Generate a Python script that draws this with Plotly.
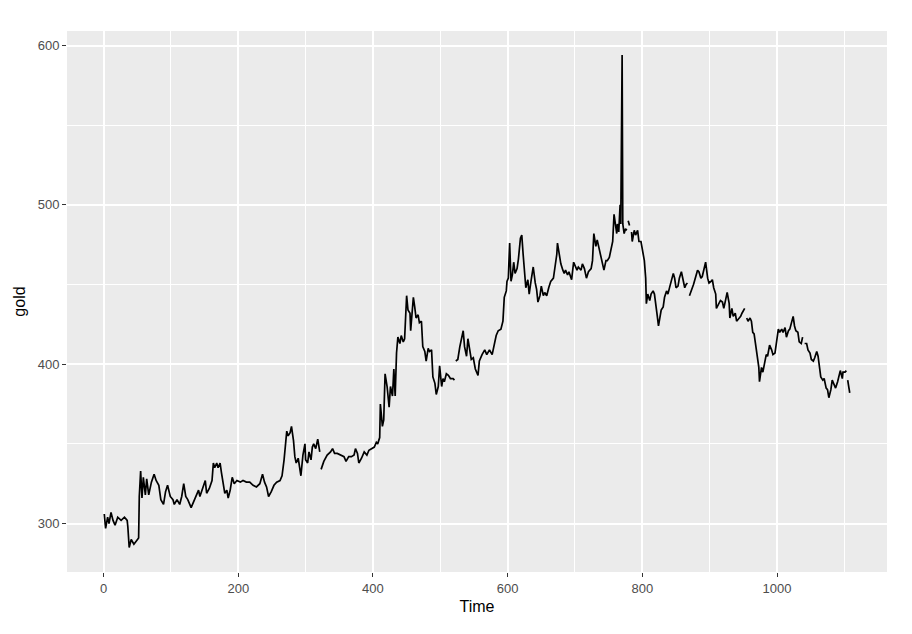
import plotly.graph_objects as go

# Daily gold price; None marks missing values
time = [1, 3, 6, 8, 11, 14, 17, 21, 26, 31, 35, 36, 38, 41, 45, 48, 52, 53, 55, 57,
        59, 62, 64, 67, 71, 75, 78, 82, 85, 89, 92, 95, 99, 103, 105, 109, 113, 116, 119, 122,
        125, 130, 134,
        137, 141, 143, 147, 151, 153, 157, 161, 163, 165, 168, 170, 173, 175, 178, 180, 183, 185,
        188, 191, 194, 198, 203, 207, 212, 217, 222, 227, 232, 236, 239, 242, 245, 249, 253, 257,
        262, 265, 268, 270, 272, 274, 277, 279, 282, 284, 286, 289, 293, 296, 299,
        300, 303, 305, 308, 310, 312, 315, 318, 321, 322, 323, 327, 332, 337, 340, 343, 347, 352,
        357, 360, 364, 368, 372, 374, 377, 379, 383, 387, 391, 394, 398, 402, 405, 407, 410, 411,
        414, 416, 418, 421, 424, 426, 429, 431,
        433, 435, 437, 440, 442, 445, 447, 450, 452, 455, 456, 460, 462, 464, 467, 469, 472, 474,
        477, 479, 482, 484, 487, 489, 492, 494, 497, 499, 502, 504, 506, 509, 512, 515, 519, 521,
        522, 523, 526, 529, 531, 534, 536, 539, 541, 544, 546, 549, 552, 556, 558, 562, 566, 569,
        573, 577, 580, 583, 586, 590, 593,
        595, 598, 599, 601, 603, 605, 607, 609, 611, 614, 616, 619, 621, 623, 625, 627, 630, 632,
        635, 638, 641, 643, 645, 648, 650, 653, 655, 658, 661, 664, 668, 670, 673, 674, 677, 679,
        682, 684, 686, 689, 691, 695, 698, 700, 703, 705, 709, 711, 714, 717, 720, 724, 726, 728,
        731, 733, 736, 738, 741, 743,
        746, 748, 751, 753, 756, 758, 760, 762, 763, 765, 767, 768, 770, 771, 773, 775, 777, 778,
        779, 781, 782, 784, 785, 788, 790, 793, 795, 798, 800, 803, 805, 806, 808, 811, 813, 816,
        818, 821, 822, 824, 826, 828, 831, 833, 836, 838, 841, 843, 846, 848, 850, 853, 855, 858,
        860, 863, 865, 867, 868, 870, 873, 876, 878,
        882, 884, 887, 889, 892, 894, 897, 899, 902, 904, 906, 909, 910, 914, 916, 919, 921, 924,
        926, 929, 930, 933, 935, 938, 940, 944, 946, 948, 952, 953, 955, 957, 960, 962, 964, 966,
        968, 971, 973, 974, 977, 979, 982, 984, 986, 989, 992, 994, 997, 999, 1002, 1004, 1007,
        1009, 1012, 1014, 1017, 1019, 1022, 1024, 1026, 1028, 1031, 1033, 1036, 1038, 1039,
        1041, 1044, 1046, 1049, 1051, 1054, 1056, 1059, 1061, 1063, 1065, 1068, 1070, 1073, 1075,
        1077, 1080, 1082, 1085, 1087, 1090, 1092, 1094, 1097, 1098, 1101, 1103, 1104, 1105, 1106,
        1108]

gold = [306, 297, 304, 300, 307, 302, 299, 304, 302, 304, 302, 298, 285, 290, 287, 289, 291, 317, 333, 316,
        329, 318, 328, 318, 326, 331, 327, 324, 315, 312, 320, 324, 317, 315, 312, 315, 312, 317, 325, 317,
        315, 310, 314,
        316, 321, 317, 322, 327, 319, 322, 327, 338, 335, 338, 335, 338, 332, 323, 319, 321, 316,
        321, 329, 325, 327, 326, 327, 326, 326, 324, 323, 325, 331, 326, 323, 317, 320, 324, 326,
        327, 330, 340, 350, 358, 355, 357, 361, 352, 342, 338, 341, 330, 343, 350,
        340, 338, 345, 340, 348, 350, 347, 353, 345, None, 334, 339, 343, 345, 347, 344, 344, 343,
        342, 339, 342, 342, 343, 347, 344, 338, 341, 345, 343, 346, 347, 348, 351, 350, 354, 375,
        361, 365, 394, 386, 373, 386, 380, 397,
        380, 407, 417, 413, 418, 414, 416, 443, 434, 432, 421, 442, 436, 429, 431, 426, 427, 411,
        408, 402, 410, 408, 409, 392, 388, 381, 386, 399, 386, 391, 389, 394, 393, 391, 391, 390,
        None, 402, 403, 411, 415, 421, 411, 405, 416, 408, 403, 404, 397, 393, 402, 406, 409, 406,
        409, 406, 413, 418, 421, 422, 427,
        442, 446, 452, 454, 476, 452, 456, 464, 457, 460, 466, 479, 481, 469, 459, 448, 453, 444,
        453, 461, 451, 447, 439, 443, 449, 443, 445, 443, 448, 452, 454, 459, 469, 476, 467, 463,
        459, 457, 459, 456, 458, 453, 464, 462, 459, 461, 459, 463, 460, 454, 458, 460, 465, 482,
        474, 478, 472, 467, 461, 459,
        465, 465, 467, 472, 477, 494, 489, 482, 488, 483, 500, 488, 594, 488, 482, 485, 484, None,
        490, 487, None, 483, 477, 484, 481, 484, 477, 477, 471, 465, 454, 438, 444, 440, 444, 446,
        444, 436, 431, 424, 429, 434, 436, 442, 446, 444, 449, 453, 457, 454, 448, 449, 454, 458,
        453, 448, 450, 451, None, 443, 446, 450, 453,
        459, 458, 454, 455, 461, 464, 454, 451, 452, 453, 448, 444, 435, 438, 440, 439, 435, 441,
        445, 438, 429, 435, 430, 432, 427, 429, 430, 432, 435, None, 429, 427, 429, 427, 420, 419,
        413, 402, 398, 389, 398, 395, 403, 406, 405, 412, 409, 406, 407, 412, 422, 420, 422,
        420, 423, 417, 421, 422, 426, 430, 424, 421, 420, 414, 413, 417, None,
        413, 413, 409, 407, 403, 402, 404, 408, 405, 398, 392, 390, 391, 385, 384,
        379, 384, 390, 387, 385, 389, 393, 396, 391, 395, 395, 396, None, 390, 386,
        382]

x_ticks = [0, 200, 400, 600, 800, 1000]
y_ticks = [300, 400, 500, 600]

fig = go.Figure()
fig.add_trace(go.Scatter(
    x=time, y=gold, mode="lines",
    line=dict(color="black", width=1.7),
    connectgaps=False, hoverinfo="skip", showlegend=False,
))

font_family = "Liberation Sans, Arial, sans-serif"
axis_common = dict(
    showgrid=True, gridcolor="white", gridwidth=1.5,
    zeroline=False, showline=False, automargin=False,
    ticks="outside", ticklen=4, tickwidth=1.1, tickcolor="#333333",
    tickfont=dict(family=font_family, size=13, color="#4D4D4D"),
    title_font=dict(family=font_family, size=16, color="black"),
)

fig.update_layout(
    width=912, height=634,
    margin=dict(l=67, r=25, t=31, b=62),
    paper_bgcolor="white", plot_bgcolor="#EBEBEB",
    hovermode=False,
    xaxis=dict(axis_common, range=[-54.35, 1163.35], tickvals=x_ticks,
               title=dict(text="Time", standoff=6),
               minor=dict(tickvals=[100, 300, 500, 700, 900, 1100], showgrid=True,
                          gridcolor="white", gridwidth=0.7, ticks="")),
    yaxis=dict(axis_common, range=[269.6, 609.1], tickvals=y_ticks,
               title=dict(text="gold", standoff=8),
               minor=dict(tickvals=[350, 450, 550], showgrid=True,
                          gridcolor="white", gridwidth=0.7, ticks="")),
)

fig.write_html("out.html", config={"displayModeBar": False},
               post_script="document.body.style.margin='0';")
